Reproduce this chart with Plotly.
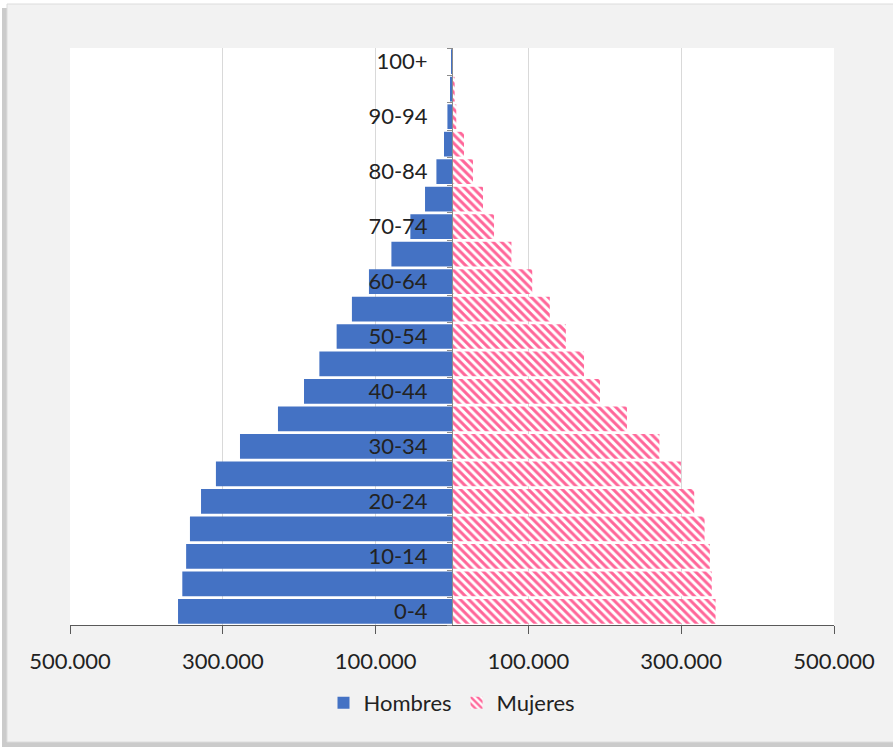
import plotly.graph_objects as go

# Age groups, youngest first
age_groups = ["0-4", "5-9", "10-14", "15-19", "20-24", "25-29", "30-34", "35-39",
              "40-44", "45-49", "50-54", "55-59", "60-64", "65-69", "70-74",
              "75-79", "80-84", "85-89", "90-94", "95-99", "100+"]

# Population by age group
hombres = [358600, 353000, 348000, 343000, 328500, 309000, 277500, 227800,
           193700, 173600, 151000, 131000, 108700, 79300, 54500,
           35300, 20400, 10500, 6000, 2600, 400]
mujeres = [345000, 340000, 337500, 330600, 317000, 299600, 271500, 229000,
           193700, 172800, 149000, 128000, 105000, 77800, 55000,
           40600, 27500, 15700, 5600, 3500, 600]

x_tickvals = [-500000, -300000, -100000, 100000, 300000, 500000]
x_ticktext = ["500.000", "300.000", "100.000", "100.000", "300.000", "500.000"]

W, H = 893, 747
ML, MR, MT, MB = 70, 59, 48, 122
PW, PH = W - ML - MR, H - MT - MB


def px_x(v):
    return (v - ML) / PW


def px_y(v):
    return (H - MB - v) / PH


FONT = "Lato, 'Open Sans', sans-serif"
BLUE = "#4472C4"
PINK = "#FF6699"

pos = list(range(len(age_groups)))

fig = go.Figure()
fig.add_trace(go.Bar(
    y=pos, x=[-v for v in hombres], orientation="h", name="Hombres",
    marker=dict(color=BLUE, line=dict(width=0)),
    customdata=hombres, hovertemplate="%{customdata:,}<extra>Hombres</extra>",
))
fig.add_trace(go.Bar(
    y=pos, x=mujeres, orientation="h", name="Mujeres",
    marker=dict(color="white", line=dict(width=0),
                pattern=dict(shape="\\", fgcolor=PINK, bgcolor="white",
                             size=6, solidity=0.5, fillmode="replace")),
    hovertemplate="%{x:,}<extra>Mujeres</extra>",
))

shapes = [
    # card shadow
    dict(type="rect", xref="paper", yref="paper", layer="below",
         x0=px_x(2), x1=px_x(W + 5), y0=px_y(747), y1=px_y(8),
         fillcolor="#b5b5b5", opacity=0.7, line=dict(width=0)),
    # card
    dict(type="rect", xref="paper", yref="paper", layer="below",
         x0=px_x(7), x1=px_x(W + 5), y0=px_y(742), y1=px_y(4),
         fillcolor="#f2f2f2", line=dict(color="#dcdcdc", width=1)),
    # plot area
    dict(type="rect", xref="paper", yref="paper", layer="below",
         x0=0, x1=1, y0=0, y1=1, fillcolor="white", line=dict(width=0)),
]

fig.update_layout(
    width=W, height=H,
    margin=dict(l=ML, r=MR, t=MT, b=MB, pad=0),
    paper_bgcolor="white", plot_bgcolor="white",
    barmode="overlay", bargap=0.1,
    font=dict(family=FONT, size=22, color="#222222"),
    shapes=shapes,
    showlegend=True,
    legend=dict(orientation="h", x=0.5, xanchor="center", y=px_y(703), yanchor="middle",
                font=dict(family=FONT, size=22, color="#222222"),
                bgcolor="rgba(0,0,0,0)", itemwidth=30, traceorder="normal"),
    xaxis=dict(range=[-500000, 500000], tickvals=x_tickvals, ticktext=x_ticktext,
               showgrid=True, gridcolor="#d9d9d9", gridwidth=1, zeroline=False,
               showline=True, linecolor="#595959", linewidth=1,
               ticks="outside", ticklen=8, tickcolor="#595959", tickwidth=1,
               ticklabelstandoff=9,
               tickfont=dict(family=FONT, size=22, color="#222222"),
               fixedrange=True),
    yaxis=dict(range=[-0.5, len(age_groups) - 0.5], anchor="free", position=0.5,
               tickvals=pos[::2], ticktext=age_groups[::2],
               ticks="", showgrid=False, zeroline=False,
               showline=True, linecolor="#8c8c8c", linewidth=1,
               ticklabelstandoff=20,
               tickfont=dict(family=FONT, size=22, color="#222222"),
               minor=dict(tickvals=[i - 0.5 for i in range(len(age_groups) + 1)],
                          ticks="outside", ticklen=5, tickcolor="#8c8c8c", tickwidth=1,
                          showgrid=False),
               fixedrange=True),
)

fig.write_html("out.html")
